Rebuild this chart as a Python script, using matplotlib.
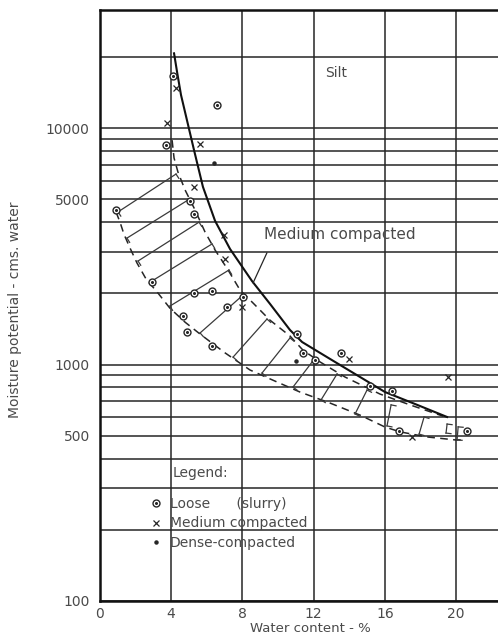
import matplotlib
matplotlib.use("Agg")
import matplotlib.pyplot as plt
from matplotlib.ticker import FixedLocator, FuncFormatter, NullLocator
from matplotlib.legend_handler import HandlerTuple
import numpy as np

plt.rcParams['font.family'] = ['DejaVu Sans']

# Silt - moisture potential (cms. water) against water content (%)
loose_w = [4.12, 6.59, 3.73, 5.08, 0.93, 5.30, 2.94, 5.30, 6.31, 7.15, 4.68,
           4.91, 6.31, 8.05, 11.08, 11.41, 12.09, 13.54, 15.17, 16.40, 16.80, 20.61]
loose_p = [16600, 12500, 8470, 4910, 4500, 4330, 2230, 2005, 2045, 1750, 1600,
           1370, 1200, 1930, 1345, 1120, 1045, 1120, 811, 773, 523, 523]

medium_w = [4.29, 3.79, 5.64, 5.30, 6.98, 7.04, 7.99, 14.0, 19.55, 17.53]
medium_p = [14800, 10500, 8560, 5630, 3530, 2790, 1750, 1055, 885, 494]

dense_w = [6.42, 11.02]
dense_p = [7110, 1035]

# fitted curve, medium compacted
curve_w = [4.18, 4.35, 4.57, 5.30, 5.80, 6.48, 7.32, 8.55, 9.56, 10.68, 11.36,
           13.21, 14.89, 16.01, 17.69, 19.49]
curve_p = [20700, 17250, 13800, 8070, 5640, 4050, 3080, 2255, 1805, 1400, 1245,
           1025, 860, 765, 681, 600]

# dashed envelope of the band
upper_w = [4.07, 4.18, 4.40, 4.80, 5.36, 5.92, 6.48, 7.21, 7.88, 8.61, 9.56,
           10.68, 11.41, 12.37, 13.77, 15.73, 17.41, 19.26]
upper_p = [8890, 7470, 6510, 5470, 4500, 3630, 3050, 2510, 2065, 1820, 1540,
           1320, 1150, 1025, 885, 750, 675, 605]
lower_w = [0.93, 1.15, 1.37, 1.71, 2.10, 2.61, 3.28, 3.95, 4.80, 5.64, 7.04,
           8.44, 9.84, 11.24, 12.93, 14.61, 16.01, 16.86, 18.37, 19.94, 20.39]
lower_p = [4410, 4000, 3560, 3110, 2690, 2300, 2005, 1730, 1510, 1345, 1120,
           948, 851, 765, 687, 611, 544, 519, 494, 480, 480]

# bracket hatching across the band (lower end -> upper end)
hatch_w0 = [1.04, 1.54, 2.16, 2.94, 3.95, 5.64, 7.49, 9.11, 10.85, 12.42, 14.33,
            16.12, 17.92, 19.43, 20.05]
hatch_p0 = [4420, 3425, 2740, 2255, 1767, 1360, 1075, 920, 803, 708, 618,
            550, 508, 513, 480]
hatch_w1 = [4.29, 4.96, 5.58, 6.31, 7.26, 7.99, 9.39, 10.68, 11.92, 13.32, 15.00,
            16.35, 18.20, 19.49, 20.11]
hatch_p1 = [6390, 4960, 4000, 3235, 2510, 1950, 1557, 1295, 1025, 912, 780,
            675, 600, 560, 545]

x_ticks = [0, 4, 8, 12, 16, 20]
y_grid = [100, 200, 300, 400, 500, 600, 700, 800, 900,
          1000, 2000, 3000, 4000, 5000, 6000, 7000, 8000, 9000, 10000, 20000]
y_labelled = [100, 500, 1000, 5000, 10000]

ink = '#262626'
txt = '#4a4a4a'

fig = plt.figure(figsize=(4.98, 6.38), dpi=100)
ax = fig.add_axes([0.1998, 0.058, 0.8022, 0.927])
ax.set_yscale('log')
ax.set_xlim(0, 22.4)
ax.set_ylim(100, 31700)

ax.yaxis.set_major_locator(FixedLocator(y_grid))
ax.yaxis.set_minor_locator(NullLocator())
ax.yaxis.set_major_formatter(FuncFormatter(
    lambda v, p: str(int(round(v))) if int(round(v)) in y_labelled else ''))
ax.set_xticks(x_ticks)
ax.tick_params(axis='both', length=0, labelsize=10, colors=txt)
ax.tick_params(axis='y', pad=7)
ax.tick_params(axis='x', pad=4)
ax.grid(True, color=ink, lw=1.1)
ax.set_axisbelow(True)
for side in ['left', 'bottom', 'top']:
    ax.spines[side].set_linewidth(1.8)
    ax.spines[side].set_color('#111111')
ax.spines['right'].set_visible(False)

# band edges
ax.plot(upper_w, upper_p, color=ink, lw=1.1, dashes=(5, 3.5))
ax.plot(lower_w, lower_p, color=ink, lw=1.1, dashes=(5, 3.5))

# hatching with small end ticks
fig.canvas.draw()
tr = ax.transData
inv = tr.inverted()
for w0, p0, w1, p1 in zip(hatch_w0, hatch_p0, hatch_w1, hatch_p1):
    ax.plot([w0, w1], [p0, p1], color='#3a3a3a', lw=0.9)
    a = tr.transform((w0, p0))
    b = tr.transform((w1, p1))
    d = (b - a) / np.hypot(*(b - a))
    n = np.array([d[1], -d[0]]) * 5
    for end in (a, b):
        seg = inv.transform([end, end + n])
        ax.plot(seg[:, 0], seg[:, 1], color='#3a3a3a', lw=0.9)

# fitted curve
ax.plot(curve_w, curve_p, color='#111111', lw=1.5)

# observations
ring, = ax.plot(loose_w, loose_p, ls='none', marker='o', ms=5, mfc='white',
                mec=ink, mew=1.0)
dot, = ax.plot(loose_w, loose_p, ls='none', marker='o', ms=1.2, color=ink)
cross, = ax.plot(medium_w, medium_p, ls='none', marker='x', ms=4.5, color=ink,
                 mew=0.9)
dense, = ax.plot(dense_w, dense_p, ls='none', marker='o', ms=2.2, color=ink)

ax.text(12.65, 17100, 'Silt', fontsize=10, color=txt, va='center')
ax.annotate('Medium compacted', xy=(8.61, 2213), xytext=(9.23, 3530),
            fontsize=11, color=txt, va='center',
            arrowprops=dict(arrowstyle='-', color=ink, lw=0.9,
                            shrinkA=6, shrinkB=0, relpos=(0.05, 0.0)))

ax.text(4.08, 348, 'Legend:', fontsize=10, color=txt, va='center')
leg = ax.legend([(ring, dot), cross, dense],
                ['Loose      (slurry)', 'Medium compacted', 'Dense-compacted'],
                handler_map={tuple: HandlerTuple(ndivide=1, pad=0)},
                loc='upper left', bbox_to_anchor=(0.127, 0.176), frameon=False,
                fontsize=10, handlelength=0.8, handletextpad=0.6,
                labelspacing=0.4, borderpad=0, borderaxespad=0)
for t in leg.get_texts():
    t.set_color(txt)

fig.text(15 / 498, 1 - 310 / 638, 'Moisture potential - cms. water',
         rotation=90, ha='center', va='center', fontsize=10, color=txt)
fig.text(310 / 498, 1 - 628 / 638, 'Water content - %', ha='center',
         va='center', fontsize=9.5, color=txt)

fig.savefig('out.png', dpi=100)
